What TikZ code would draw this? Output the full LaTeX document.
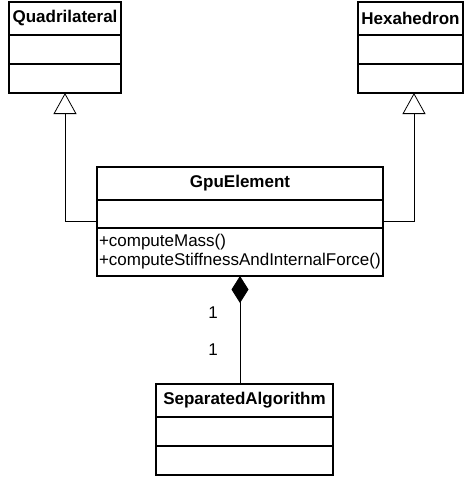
\documentclass[tikz,border=0pt]{standalone}
\usepackage{fontspec}
\setmainfont{Liberation Sans}
\usetikzlibrary{positioning,chains,arrows.meta,calc}
\tikzset{
  umlname/.style={
    rectangle,
    draw=black, semithick,
    minimum height=16.5pt,
    inner sep=1pt, outer sep=0pt,
    font=\fontsize{8.5pt}{9.5pt}\selectfont\bfseries,
    text centered,
    on chain},
  umlpart/.style={
    rectangle,
    draw=black, semithick,
    minimum height=14.5pt,
    inner sep=1pt, outer sep=0pt,
    font=\fontsize{8.5pt}{9.5pt}\selectfont,
    on chain},
  inherit/.style={draw, thin, -{Triangle[open, length=10.5pt, width=11.5pt]}},
  compose/.style={draw, thin, {Diamond[length=13.5pt, width=8.5pt]}-},
  mult/.style={font=\fontsize{8.5pt}{9.5pt}\selectfont, inner sep=0pt},
}
\begin{document}
\begin{tikzpicture}[node distance=0pt]
	\useasboundingbox (0,0) rectangle (232pt,-239pt);
	% base classes
	\begin{scope}[start chain=going below, every node/.append style={minimum width=56pt}]
		\node[umlname, anchor=north west] (quad-name) at (4.5pt,-1pt) {Quadrilateral};
		\node[umlpart] (quad-attr) {};
		\node[umlpart] (quad-ops) {};
	\end{scope}
	\begin{scope}[start chain=going below, every node/.append style={minimum width=52.5pt}]
		\node[umlname, anchor=north west] (hex-name) at (179pt,-1pt) {Hexahedron};
		\node[umlpart] (hex-attr) {};
		\node[umlpart] (hex-ops) {};
	\end{scope}
	% element class
	\begin{scope}[start chain=going below, every node/.append style={minimum width=143pt}]
		\node[umlname, anchor=north west] (gpu-name) at (48.5pt,-83.5pt) {GpuElement};
		\node[umlpart, minimum height=14pt] (gpu-attr) {};
		\node[umlpart, minimum height=24pt, text width=141pt, align=left] (gpu-ops)
			{+computeMass()\\+computeStiffnessAndInternalForce()};
	\end{scope}
	\begin{scope}[start chain=going below, every node/.append style={minimum width=88.5pt}]
		\node[umlname, anchor=north west] (sep-name) at (78pt,-192pt) {SeparatedAlgorithm};
		\node[umlpart] (sep-attr) {};
		\node[umlpart] (sep-ops) {};
	\end{scope}
	% generalizations
	\draw[inherit] ($(gpu-attr.south west)!0.25!(gpu-attr.north west)$) -| (quad-ops.south);
	\draw[inherit] ($(gpu-attr.south east)!0.25!(gpu-attr.north east)$) -| ([xshift=1.75pt]hex-ops.south);
	% composition
	\draw[compose] (gpu-ops.south) -- (gpu-ops.south |- sep-name.north)
		node[mult, pos=0.34, xshift=-13.5pt] (mult-gpu) {1}
		node[mult, pos=0.68, xshift=-13.5pt] (mult-sep) {1};
\end{tikzpicture}
\end{document}
